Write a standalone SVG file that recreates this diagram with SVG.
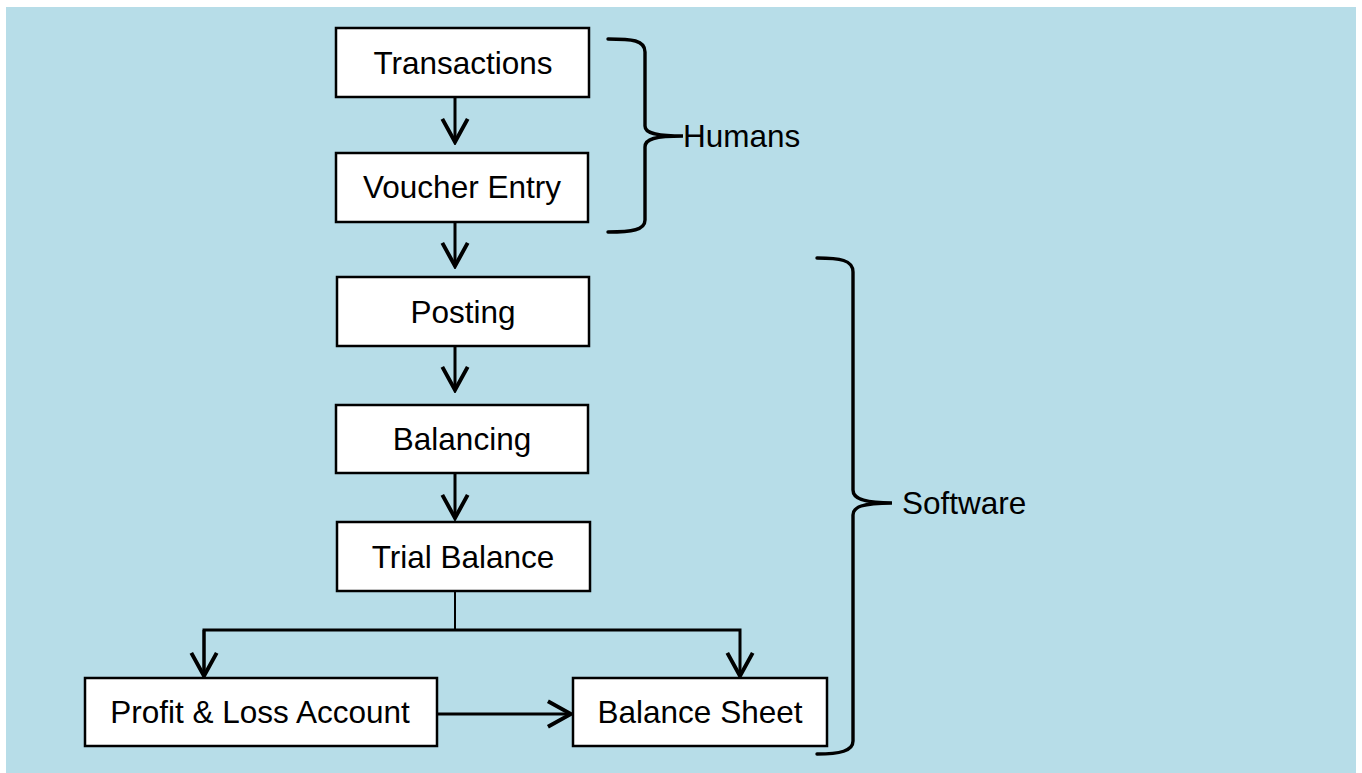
<svg xmlns="http://www.w3.org/2000/svg" width="1362" height="773" viewBox="0 0 1362 773">
  <defs>
    <style>
      .box { fill: #ffffff; stroke: #000000; stroke-width: 2.5; }
      .lbl { font-family: "Liberation Sans", Arial, sans-serif; font-size: 31.5px; fill: #000000; }
      .conn { fill: none; stroke: #000000; stroke-width: 3; }
      .thin { fill: none; stroke: #000000; stroke-width: 2; }
      .brace { fill: none; stroke: #000000; stroke-width: 3.4; stroke-linecap: round; }
    </style>
    <marker id="arr" markerUnits="userSpaceOnUse" markerWidth="30" markerHeight="30" viewBox="-22 -13 24 26" refX="0" refY="0" orient="auto">
      <path d="M-20,-11 L0,0 L-20,11" fill="none" stroke="#000000" stroke-width="3.4"/>
    </marker>
  </defs>
  <rect x="0" y="0" width="1362" height="773" fill="#ffffff"/>
  <rect x="6" y="7" width="1350" height="766" fill="#b7dde8"/>

  <g id="connectors">
    <line class="conn" x1="455" y1="97" x2="455" y2="142" marker-end="url(#arr)"/>
    <line class="conn" x1="455" y1="222" x2="455" y2="266" marker-end="url(#arr)"/>
    <line class="conn" x1="455" y1="346" x2="455" y2="390" marker-end="url(#arr)"/>
    <line class="conn" x1="455" y1="473" x2="455" y2="518" marker-end="url(#arr)"/>
    <line class="thin" x1="455" y1="591" x2="455" y2="630"/>
    <polyline class="conn" points="204,676 204,630 740,630 740,676" marker-end="url(#arr)"/>
    <line class="conn" x1="204" y1="630" x2="204" y2="676" marker-end="url(#arr)"/>
    <line class="conn" x1="437" y1="714" x2="571" y2="714" stroke-width="3.6" marker-end="url(#arr)"/>
  </g>

  <g id="node-transactions">
    <rect class="box" x="336" y="28" width="253" height="69"/>
    <text class="lbl" x="463" y="74" text-anchor="middle">Transactions</text>
  </g>
  <g id="node-voucher">
    <rect class="box" x="336" y="153" width="252" height="69"/>
    <text class="lbl" x="462" y="198" text-anchor="middle">Voucher Entry</text>
  </g>
  <g id="node-posting">
    <rect class="box" x="337" y="277" width="252" height="69"/>
    <text class="lbl" x="463" y="323" text-anchor="middle">Posting</text>
  </g>
  <g id="node-balancing">
    <rect class="box" x="336" y="405" width="252" height="68"/>
    <text class="lbl" x="462" y="450" text-anchor="middle">Balancing</text>
  </g>
  <g id="node-trial">
    <rect class="box" x="337" y="522" width="253" height="69"/>
    <text class="lbl" x="463" y="568" text-anchor="middle">Trial Balance</text>
  </g>
  <g id="node-pl">
    <rect class="box" x="85" y="678" width="352" height="68"/>
    <text class="lbl" x="260" y="723" text-anchor="middle">Profit &amp; Loss Account</text>
  </g>
  <g id="node-bs">
    <rect class="box" x="573" y="678" width="254" height="68"/>
    <text class="lbl" x="700" y="723" text-anchor="middle">Balance Sheet</text>
  </g>

  <g id="brace-humans">
    <path class="brace" d="M608,39 C632,39 645,40 645,52 L645,126 C645,133 655,136 683,136 C655,136 645,139 645,147 L645,220 C645,230 632,232 608,232"/>
    <text class="lbl" x="683" y="147">Humans</text>
  </g>
  <g id="brace-software">
    <path class="brace" d="M817,258 C840,258 853,260 853,272 L853,490 C853,498 862,503 892,503 C862,503 853,507 853,515 L853,741 C853,751 840,754 817,754"/>
    <text class="lbl" x="902" y="514">Software</text>
  </g>
</svg>
